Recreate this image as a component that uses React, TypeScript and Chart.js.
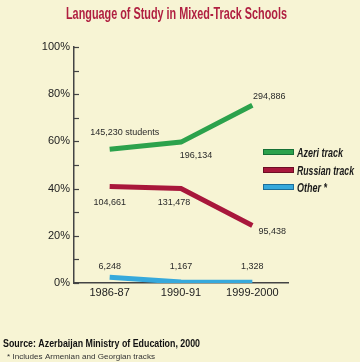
import React, { useEffect, useRef } from "react";
import { Chart, registerables } from "chart.js";

Chart.register(...registerables);

const categories = ["1986-87", "1990-91", "1999-2000"];
const azeri = [56.7, 59.7, 75.3];
const russian = [40.9, 40.0, 24.4];
const other = [2.4, 0.4, 0.3];
const azeriLabels = ["145,230 students", "196,134", "294,886"];
const russianLabels = ["104,661", "131,478", "95,438"];
const otherLabels = ["6,248", "1,167", "1,328"];
const seriesNames = ["Azeri track", "Russian track", "Other *"];

const TITLE = "Language of Study in Mixed-Track Schools";
const SOURCE = "Source: Azerbaijan Ministry of Education, 2000";
const NOTE = "* Includes Armenian and Georgian tracks";

const BG = "#f7f4d4";
const COLORS = ["#2ca24c", "#a8173b", "#36a9dc"];
const EDGES = ["#167036", "#6c0e25", "#1c6e99"];

// label offsets relative to the point (style, not data)
const labelOffsets = [
  [[15, -17], [15, 13], [17, -9]],
  [[0, 16], [-7, 14], [20, 6]],
  [[0, -11], [0, -16], [0, -16]],
];
const legendWidths = [46, 57, 30];

export default function App() {
  const ref = useRef<HTMLCanvasElement | null>(null);
  useEffect(() => {
    if (!ref.current) return;
    const allLabels = [azeriLabels, russianLabels, otherLabels];
    const drawScaled = (ctx: any, text: string, x: number, y: number, w: number) => {
      const m = ctx.measureText(text).width;
      ctx.save();
      ctx.translate(x, y);
      ctx.scale(w / m, 1);
      ctx.fillText(text, 0, 0);
      ctx.restore();
    };
    const textPlugin = {
      id: "texts",
      beforeDatasetsDraw(chart: any) {
        const ctx = chart.ctx;
        const y = chart.scales.y;
        const area = chart.chartArea;
        ctx.save();
        ctx.strokeStyle = "#444";
        ctx.lineWidth = 1.2;
        y.ticks.forEach((t: any) => {
          const py = Math.round(y.getPixelForValue(t.value)) + 0.5;
          ctx.beginPath();
          ctx.moveTo(area.left, py);
          ctx.lineTo(area.left + 5, py);
          ctx.stroke();
        });
        ctx.restore();
      },
      afterDatasetsDraw(chart: any) {
        const ctx = chart.ctx;
        ctx.save();
        ctx.textBaseline = "middle";
        ctx.textAlign = "left";
        // title
        ctx.font = "bold 17px 'Liberation Sans Narrow', 'Liberation Sans', sans-serif";
        ctx.fillStyle = "#b01f40";
        drawScaled(ctx, TITLE, 66, 14, 221);

        // data labels
        ctx.font = "9px 'Liberation Sans', Arial, sans-serif";
        ctx.fillStyle = "#2a2a2a";
        ctx.textAlign = "center";
        chart.data.datasets.forEach((ds: any, i: number) => {
          const meta = chart.getDatasetMeta(i);
          meta.data.forEach((pt: any, j: number) => {
            const [dx, dy] = labelOffsets[i][j];
            ctx.fillText(allLabels[i][j], pt.x + dx, pt.y + dy);
          });
        });

        // legend
        ctx.textAlign = "left";
        const lx = 263, ly = [152, 170, 187];
        seriesNames.forEach((name, i) => {
          ctx.fillStyle = COLORS[i];
          ctx.fillRect(lx, ly[i] - 3, 31, 6);
          ctx.strokeStyle = EDGES[i];
          ctx.lineWidth = 1;
          ctx.strokeRect(lx + 0.5, ly[i] - 2.5, 30, 5);
          ctx.fillStyle = "#1a1a1a";
          ctx.font = "italic bold 13px 'Liberation Sans Narrow', 'Liberation Sans', sans-serif";
          drawScaled(ctx, name, 297, ly[i] + 1, legendWidths[i]);
        });

        // footer
        ctx.fillStyle = "#111";
        ctx.font = "bold 11px 'Liberation Sans Narrow', 'Liberation Sans', sans-serif";
        drawScaled(ctx, SOURCE, 3, 344, 197);
        ctx.fillStyle = "#333";
        ctx.font = "7px 'Liberation Sans', Arial, sans-serif";
        drawScaled(ctx, NOTE, 7, 357, 148);
        ctx.restore();
      },
    };

    const mk = (label: string, data: number[], i: number) => ({
      label,
      data,
      borderColor: COLORS[i],
      backgroundColor: COLORS[i],
      borderWidth: 5,
      borderCapStyle: "butt",
      pointRadius: 0,
      tension: 0,
      fill: false,
    });

    const chart = new Chart(ref.current, {
      type: "line",
      data: {
        labels: categories,
        datasets: [
          mk(seriesNames[0], azeri, 0),
          mk(seriesNames[1], russian, 1),
          mk(seriesNames[2], other, 2),
        ],
      },
      options: {
        animation: false,
        responsive: false,
        devicePixelRatio: 1,
        layout: { padding: { left: 0, right: 72, top: 47, bottom: 0 } },
        plugins: {
          legend: { display: false },
          title: { display: false },
          tooltip: { enabled: false },
        },
        scales: {
          x: {
            offset: true,
            grid: { display: false, drawTicks: false },
            border: { display: true, color: "#444", width: 1.5 },
            ticks: {
              color: "#222",
              padding: 3,
              font: { family: "'Liberation Sans', Arial, sans-serif", size: 11 },
              maxRotation: 0,
            },
            afterFit(scale: any) {
              scale.height = 79;
            },
          },
          y: {
            min: 0,
            max: 100,
            grid: { display: false, drawTicks: false },
            border: { display: true, color: "#444", width: 1.5 },
            ticks: {
              stepSize: 10,
              padding: 4,
              color: "#222",
              font: { family: "'Liberation Sans', Arial, sans-serif", size: 11 },
              callback: (v: any) => (Number(v) % 20 === 0 ? v + "%" : ""),
            },
            afterFit(scale: any) {
              scale.width = 74;
            },
          },
        },
      } as any,
      plugins: [textPlugin],
    });
    return () => chart.destroy();
  }, []);

  return (
    <div
      style={{
        position: "fixed",
        left: 0,
        top: 0,
        width: 360,
        height: 362,
        background: BG,
      }}
    >
      <canvas ref={ref} width={360} height={362} style={{ width: 360, height: 362 }} />
    </div>
  );
}
